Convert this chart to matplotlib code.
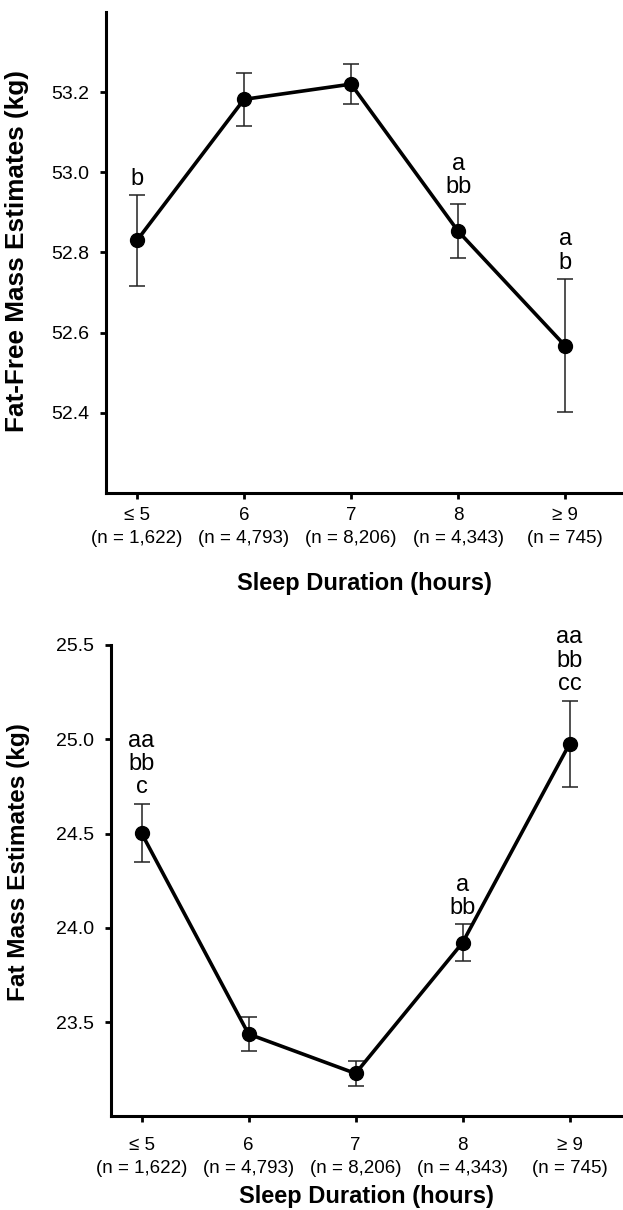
import numpy as np
import matplotlib
matplotlib.use('Agg')
import matplotlib.pyplot as plt

plt.rcParams['font.family'] = ['Liberation Sans', 'DejaVu Sans']

hours = ['\u2264 5', '6', '7', '8', '\u2265 9']
counts = ['1,622', '4,793', '8,206', '4,343', '745']
tick_labels = ['%s\n(n = %s)' % (h, n) for h, n in zip(hours, counts)]

ffm = [52.83, 53.182, 53.22, 52.853, 52.567]
ffm_err = [0.113, 0.066, 0.05, 0.068, 0.166]
ffm_marks = ['b', '', '', 'a\nbb', 'a\nb']

fm = [24.502, 23.437, 23.228, 23.921, 24.975]
fm_err = [0.155, 0.09, 0.068, 0.097, 0.23]
fm_marks = ['aa\nbb\nc', '', '', 'a\nbb', 'aa\nbb\ncc']


def panel(ax, vals, errs, marks, ylim, yticks, ylabel, ylsize, right, xpad, lpad):
    x = np.arange(len(vals))
    ax.errorbar(x, vals, yerr=errs, fmt='none', ecolor='#222222',
                elinewidth=1.1, capsize=6, capthick=1.1, zorder=2)
    ax.plot(x, vals, color='black', lw=2.6, marker='o', ms=10, zorder=3)
    for xi, v, e, m in zip(x, vals, errs, marks):
        if m:
            ax.annotate(m, (xi, v + e), xytext=(0, 4), textcoords='offset points',
                        ha='center', va='bottom', fontsize=17, linespacing=1.08)
    ax.set_xlim(-0.29, right)
    ax.set_ylim(*ylim)
    ax.set_yticks(yticks)
    ax.set_yticklabels(['%.1f' % t for t in yticks])
    ax.set_xticks(x)
    ax.set_xticklabels(tick_labels, linespacing=1.45)
    for s in ['top', 'right']:
        ax.spines[s].set_visible(False)
    ax.spines['left'].set_linewidth(2.2)
    ax.spines['bottom'].set_linewidth(2.2)
    ax.tick_params(axis='y', labelsize=14, length=4, width=2, pad=8)
    ax.tick_params(axis='x', labelsize=13.5, length=4, width=2, pad=xpad)
    ax.set_ylabel(ylabel, fontsize=ylsize, fontweight='bold')
    ax.set_xlabel('Sleep Duration (hours)', fontsize=17, fontweight='bold', labelpad=lpad)


fig = plt.figure(figsize=(6.23, 12.10), dpi=100)
ax1 = fig.add_axes([0.170, 0.5926, 0.83, 0.3975])
panel(ax1, ffm, ffm_err, ffm_marks, (52.2, 53.4), [52.4, 52.6, 52.8, 53.0, 53.2],
      'Fat-Free Mass Estimates (kg)', 18.8, 4.54, 6, 18)
ax1.yaxis.set_label_coords(-0.148, 0.503)

ax2 = fig.add_axes([0.1774, 0.0773, 0.8226, 0.3897])
panel(ax2, fm, fm_err, fm_marks, (23.0, 25.5), [23.5, 24.0, 24.5, 25.0, 25.5],
      'Fat Mass Estimates (kg)', 17.6, 4.50, 11, 6)
ax2.yaxis.set_label_coords(-0.158, 0.54)

fig.savefig('out.png', dpi=100)
